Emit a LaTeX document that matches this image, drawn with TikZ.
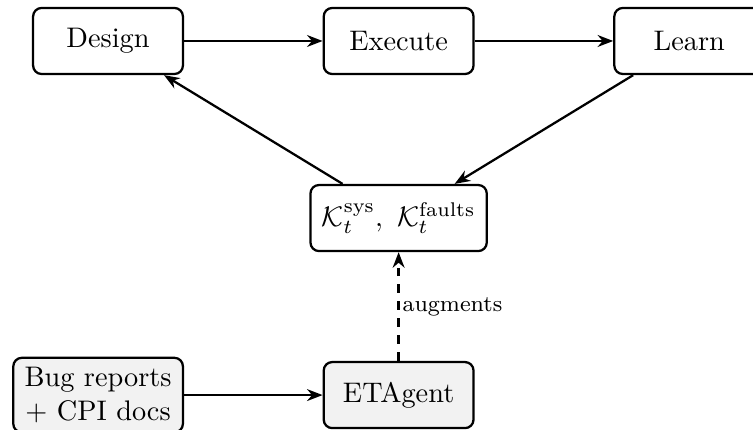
\documentclass[tikz,border=0pt]{standalone}
\usepackage{amsmath}
\usepackage{tikz}
\usetikzlibrary{arrows.meta,positioning}

\begin{document}
\begin{tikzpicture}[
    node distance=1.35cm and 1.72cm,
    block/.style={draw, thick, rounded corners=3pt, align=center, inner xsep=4pt, minimum height=0.82cm, minimum width=1.86cm},
    gblock/.style={block, fill=gray!10},
    arrow/.style={-{Stealth[length=5.5pt, width=4.2pt]}, thick}
]
\useasboundingbox (-1.341,0.509) rectangle (8.008,-4.829);
\node[block] (design) at (0,0) {Design};
\node[block, right=of design] (execute) {Execute};
\node[block, right=of execute] (learn) {Learn};
\node[block, below=of execute] (know) {$\mathcal{K}_t^{\text{sys}},\ \mathcal{K}_t^{\text{faults}}$};
\node[gblock, below=of know] (agent) {ETAgent};
\node[gblock, left=of agent] (bugs) {Bug reports\\+ CPI docs};
\draw[arrow] (design) -- (execute);
\draw[arrow] (execute) -- (learn);
\draw[arrow] (learn) -- (know);
\draw[arrow] (know) -- (design);
\draw[arrow] (bugs) -- (agent);
\draw[arrow, dashed] (agent) -- node[right, font=\footnotesize, inner sep=1pt] {augments} (know);
\end{tikzpicture}
\end{document}
